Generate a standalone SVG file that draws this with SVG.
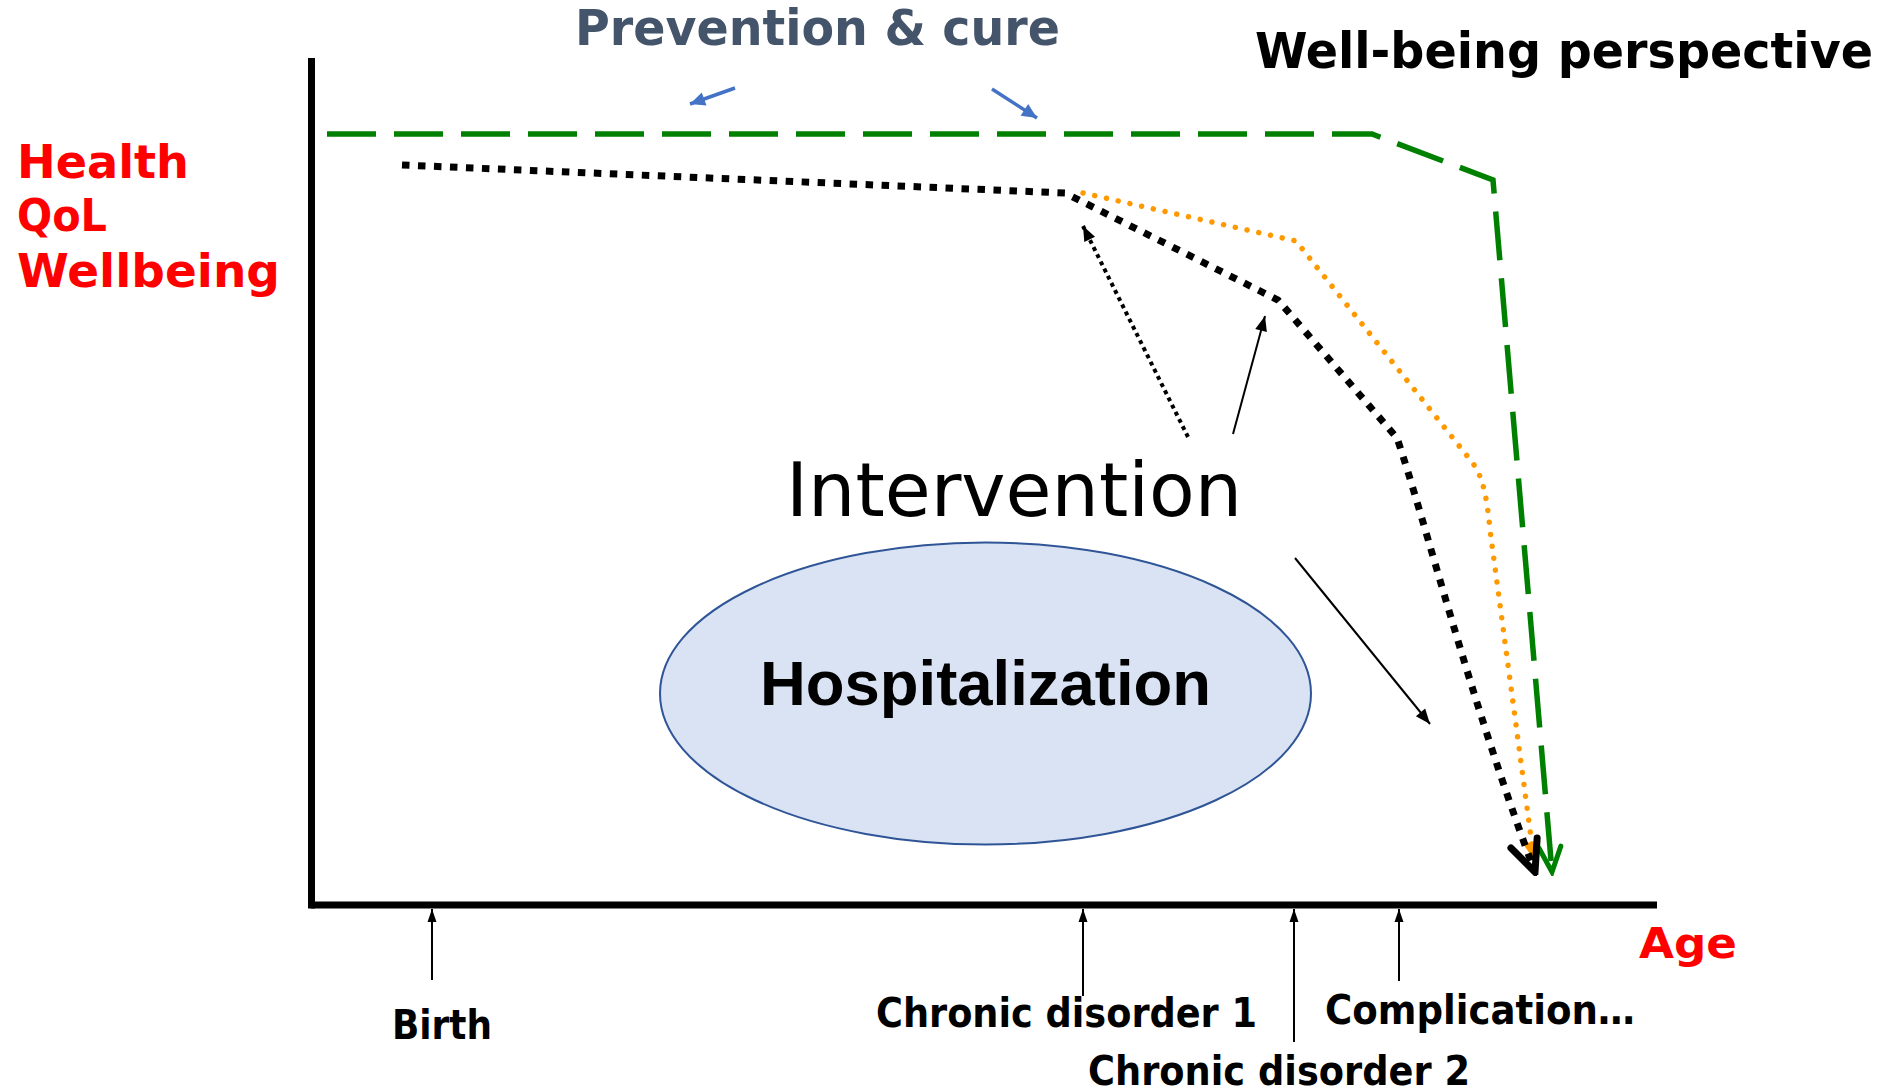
<svg xmlns="http://www.w3.org/2000/svg" width="1891" height="1091" viewBox="0 0 1891 1091">
<style>
.cb{font-family:"DejaVu Sans Condensed","DejaVu Sans",sans-serif;font-stretch:condensed;font-weight:bold;}
.red{font-family:"DejaVu Sans",sans-serif;font-weight:bold;fill:#FF0000;}
.thin{stroke:#000;stroke-width:2;fill:none;}
</style>
<defs>
<marker id="ah" markerUnits="userSpaceOnUse" viewBox="-16 -8 16 16" refX="0" refY="0" markerWidth="16" markerHeight="16" orient="auto">
<path d="M0,0 L-15,-6 L-15,6 z" fill="#000"/>
</marker>
<marker id="ahs" markerUnits="userSpaceOnUse" viewBox="-14 -7 14 14" refX="0" refY="0" markerWidth="14" markerHeight="14" orient="auto">
<path d="M0,0 L-13,-4.5 L-13,4.5 z" fill="#000"/>
</marker>
<marker id="ahb" markerUnits="userSpaceOnUse" viewBox="-18 -9 18 18" refX="0" refY="0" markerWidth="18" markerHeight="18" orient="auto">
<path d="M0,0 L-15,-7 L-15,7 z" fill="#4472C4"/>
</marker>
<marker id="ahk" markerUnits="userSpaceOnUse" viewBox="-40 -20 44 40" refX="0" refY="0" markerWidth="44" markerHeight="40" orient="auto">
<path d="M-31,-14 L0,0 L-31,14" fill="none" stroke="#000" stroke-width="7" stroke-linejoin="miter" stroke-linecap="round"/>
</marker>
<marker id="aho" markerUnits="userSpaceOnUse" viewBox="-22 -12 24 24" refX="0" refY="0" markerWidth="24" markerHeight="24" orient="auto">
<path d="M0,0 L-18,-9 L-18,9 z" fill="#FF9900"/>
</marker>
<marker id="ahg" markerUnits="userSpaceOnUse" viewBox="-30 -16 34 32" refX="0" refY="0" markerWidth="34" markerHeight="32" orient="auto">
<path d="M-25,-11 L0,0 L-25,11" fill="none" stroke="#008000" stroke-width="5" stroke-linecap="round"/>
</marker>
</defs>

<g id="axes">
<line x1="311.5" y1="58" x2="311.5" y2="908.5" stroke="#000" stroke-width="7"/>
<line x1="311" y1="905" x2="1657" y2="905" stroke="#000" stroke-width="7"/>
</g>

<g id="labels-axis">
<text class="red" x="17" y="178" font-size="47" textLength="172" lengthAdjust="spacingAndGlyphs">Health</text>
<text class="red" x="17" y="231" font-size="45" textLength="90" lengthAdjust="spacingAndGlyphs">QoL</text>
<text class="red" x="17" y="287" font-size="47" textLength="263" lengthAdjust="spacingAndGlyphs">Wellbeing</text>
<text class="red" x="1639" y="958" font-size="43" textLength="98" lengthAdjust="spacingAndGlyphs">Age</text>
</g>

<g id="title-prevention">
<text class="cb" x="575" y="45" font-size="50" fill="#44546A" textLength="485" lengthAdjust="spacingAndGlyphs">Prevention &amp; cure</text>
</g>
<g id="title-wellbeing">
<text class="cb" x="1255" y="68" font-size="49" fill="#000" textLength="618" lengthAdjust="spacingAndGlyphs">Well-being perspective</text>
</g>

<g id="hospitalization">
<ellipse cx="985.5" cy="693.5" rx="325.5" ry="151" fill="#DAE3F3" stroke="#2F5597" stroke-width="2"/>
<text x="760" y="705" font-family="Liberation Sans, Arial, sans-serif" font-weight="bold" font-size="63" fill="#000" textLength="451" lengthAdjust="spacingAndGlyphs">Hospitalization</text>
</g>

<g id="intervention">
<text x="786" y="516" font-family="DejaVu Sans, sans-serif" font-size="75" fill="#000" textLength="456" lengthAdjust="spacingAndGlyphs">Intervention</text>
</g>

<g id="birth"><text class="cb" x="392" y="1039" font-size="40" textLength="100" lengthAdjust="spacingAndGlyphs">Birth</text></g>
<g id="chronic1"><text class="cb" x="876" y="1027" font-size="40" textLength="381" lengthAdjust="spacingAndGlyphs">Chronic disorder 1</text></g>
<g id="chronic2"><text class="cb" x="1088" y="1085" font-size="40" textLength="382" lengthAdjust="spacingAndGlyphs">Chronic disorder 2</text></g>
<g id="complication"><text class="cb" x="1325" y="1024" font-size="40" textLength="310" lengthAdjust="spacingAndGlyphs">Complication…</text></g>

<g id="connectors">
<path d="M327,134 L1372,134 L1493,180 L1552,872" fill="none" stroke="#008000" stroke-width="5.5" stroke-dasharray="49 18" marker-end="url(#ahg)"/>
<path d="M1083,193 L1296,241 L1472,462 C1484,478 1487,500 1490,530 L1534,860" fill="none" stroke="#FF9900" stroke-width="5.5" stroke-linecap="round" stroke-dasharray="0.01 12" marker-end="url(#aho)"/>
<path d="M402,165 L1065,193 L1278,300 L1397,438 C1425,520 1470,700 1535,872" fill="none" stroke="#000" stroke-width="7" stroke-dasharray="7.5 8.5" marker-end="url(#ahk)"/>
<line x1="735" y1="88" x2="690" y2="104" stroke="#4472C4" stroke-width="3.5" marker-end="url(#ahb)"/>
<line x1="992" y1="89" x2="1037" y2="118" stroke="#4472C4" stroke-width="3.5" marker-end="url(#ahb)"/>
<line x1="1188" y1="437" x2="1083" y2="226" stroke="#000" stroke-width="4" stroke-dasharray="4 4" marker-end="url(#ah)"/>
<line x1="1233" y1="434" x2="1265" y2="316" class="thin" stroke-width="3.5" marker-end="url(#ah)"/>
<line x1="1295" y1="558" x2="1430" y2="724" class="thin" stroke-width="3.5" marker-end="url(#ah)"/>
<line x1="432" y1="980" x2="432" y2="909" class="thin" marker-end="url(#ahs)"/>
<line x1="1083" y1="996" x2="1083" y2="909" class="thin" marker-end="url(#ahs)"/>
<line x1="1294" y1="1042" x2="1294" y2="909" class="thin" marker-end="url(#ahs)"/>
<line x1="1399" y1="981" x2="1399" y2="909" class="thin" marker-end="url(#ahs)"/>
</g>
</svg>
